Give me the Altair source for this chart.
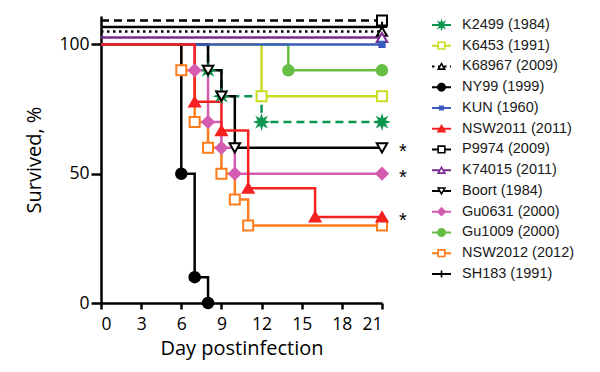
import math
import altair as alt
import pandas as pd

# ---- data -------------------------------------------------------------
series = ["K2499 (1984)", "K6453 (1991)", "K68967 (2009)", "NY99 (1999)",
          "KUN (1960)", "NSW2011 (2011)", "P9974 (2009)", "K74015 (2011)",
          "Boort (1984)", "Gu0631 (2000)", "Gu1009 (2000)", "NSW2012 (2012)",
          "SH183 (1991)"]

k2499_day = [0, 8, 9, 12, 21]
k2499_pct = [100, 90, 80, 70, 70]
k6453_day = [0, 12, 21]
k6453_pct = [100, 80, 80]
k68967_day = [0, 21]
k68967_pct = [105, 105]
ny99_day = [0, 6, 7, 8]
ny99_pct = [100, 50, 10, 0]
kun_day = [0, 21]
kun_pct = [100, 100]
nsw2011_day = [0, 7, 9, 11, 16, 21]
nsw2011_pct = [100, 77.8, 66.7, 44.4, 33.3, 33.3]
p9974_day = [0, 21]
p9974_pct = [109.3, 109.3]
k74015_day = [0, 21]
k74015_pct = [102.7, 102.7]
boort_day = [0, 8, 9, 10, 21]
boort_pct = [100, 90, 80, 60, 60]
gu0631_day = [0, 7, 8, 9, 10, 21]
gu0631_pct = [100, 90, 70, 60, 50, 50]
gu1009_day = [0, 14, 21]
gu1009_pct = [100, 90, 90]
nsw2012_day = [0, 6, 7, 8, 9, 10, 11, 21]
nsw2012_pct = [100, 90, 70, 60, 50, 40, 30, 30]
sh183_day = [0, 21]
sh183_pct = [106.7, 106.7]

# significance marks (day 21 end values)
star_pct = [60, 50, 33.3]

x_ticks = [0, 3, 6, 9, 12, 15, 18, 21]
y_ticks = [0, 50, 100]

# ---- styles -----------------------------------------------------------
colors = ["#0b9650", "#cbdc22", "#000000", "#000000", "#3a5cc2", "#f52020",
          "#000000", "#7a2b8f", "#000000", "#d45cb0", "#67be45", "#ff7c1c",
          "#000000"]
fills = ["#0b9650", "#ffffff", "#ffffff", "#000000", "#3a5cc2", "#f52020",
         "#ffffff", "#ffffff", "#ffffff", "#d45cb0", "#67be45", "#ffffff",
         "#000000"]
dashes = [[8, 5], [1, 0], [2.5, 3.5], [1, 0], [1, 0], [1, 0], [8, 5], [1, 0],
          [1, 0], [1, 0], [1, 0], [1, 0], [1, 0]]

pts = []
for k in range(16):
    a = -math.pi / 2 + k * math.pi / 8
    r = 1.0 if k % 2 == 0 else 0.45
    pts.append(f"{r * math.cos(a):.3f},{r * math.sin(a):.3f}")
star_path = "M" + "L".join(pts) + "Z"
plus_path = "M-1,0L1,0M0,-1L0,1"

shapes = [star_path, "square", "triangle-up", "circle", "square",
          "triangle-up", "square", "triangle-up", "triangle-down", "diamond",
          "circle", "square", plus_path]
sizes = [120, 100, 100, 110, 28, 115, 100, 110, 110, 130, 110, 100, 110]
leg_sizes = [55, 45, 40, 55, 12, 50, 45, 45, 45, 55, 55, 45, 50]

draw_order = [6, 12, 2, 7, 10, 1, 0, 8, 9, 11, 3, 4, 5]
days = [k2499_day, k6453_day, k68967_day, ny99_day, kun_day, nsw2011_day,
        p9974_day, k74015_day, boort_day, gu0631_day, gu1009_day,
        nsw2012_day, sh183_day]
pcts = [k2499_pct, k6453_pct, k68967_pct, ny99_pct, kun_pct, nsw2011_pct,
        p9974_pct, k74015_pct, boort_pct, gu0631_pct, gu1009_pct,
        nsw2012_pct, sh183_pct]

rows = []
for i in draw_order:
    for j, (d, p) in enumerate(zip(days[i], pcts[i])):
        rows.append({"name": series[i], "day": d, "pct": p, "mark": j > 0,
                     "sz": sizes[i]})
df = pd.DataFrame(rows)

star_df = pd.DataFrame({"day": [21] * len(star_pct), "pct": star_pct})
leg_df = pd.DataFrame({"name": series, "idx": list(range(len(series))),
                       "lsz": leg_sizes})

FONT = "Open Sans"
LFONT = "Liberation Sans"

color_sc = alt.Scale(domain=series, range=colors)
fill_sc = alt.Scale(domain=series, range=fills)
dash_sc = alt.Scale(domain=series, range=dashes)
shape_sc = alt.Scale(domain=series, range=shapes)

x_enc = alt.X("day:Q", scale=alt.Scale(domain=[0, 21], nice=False),
              axis=alt.Axis(values=x_ticks, title="Day postinfection",
                            tickSize=6, labelPadding=6, titlePadding=6))
y_enc = alt.Y("pct:Q", scale=alt.Scale(domain=[0, 111], nice=False),
              axis=alt.Axis(values=y_ticks, title="Survived, %",
                            tickSize=10, labelPadding=2, titlePadding=14))

base = alt.Chart(df)
lines = base.mark_line(interpolate="step-after", strokeWidth=2.5).encode(
    x=x_enc, y=y_enc,
    color=alt.Color("name:N", scale=color_sc, legend=None),
    strokeDash=alt.StrokeDash("name:N", scale=dash_sc, legend=None),
)
points = base.transform_filter("datum.mark").mark_point(
    strokeWidth=2, opacity=1, fillOpacity=1).encode(
    x="day:Q", y="pct:Q",
    stroke=alt.Stroke("name:N", scale=color_sc, legend=None),
    fill=alt.Fill("name:N", scale=fill_sc, legend=None),
    shape=alt.Shape("name:N", scale=shape_sc, legend=None),
    size=alt.Size("sz:Q", scale=None, legend=None),
)
stars = alt.Chart(star_df).mark_text(
    text="*", font=LFONT, fontSize=20, dx=21, dy=4, color="black").encode(
    x="day:Q", y="pct:Q")

main = alt.layer(lines, points, stars).properties(width=281, height=287)

leg_y = alt.Y("idx:Q", scale=alt.Scale(domain=[-0.43, 13.4], reverse=True,
                                       nice=False, zero=False), axis=None)
leg_base = alt.Chart(leg_df)
leg_line = leg_base.mark_rule(strokeWidth=2).encode(
    x=alt.value(12), x2=alt.value(31), y=leg_y,
    color=alt.Color("name:N", scale=color_sc, legend=None),
    strokeDash=alt.StrokeDash("name:N", scale=dash_sc, legend=None),
)
leg_pt = leg_base.mark_point(strokeWidth=1.6, opacity=1, fillOpacity=1).encode(
    x=alt.value(21.5), y=leg_y,
    stroke=alt.Stroke("name:N", scale=color_sc, legend=None),
    fill=alt.Fill("name:N", scale=fill_sc, legend=None),
    shape=alt.Shape("name:N", scale=shape_sc, legend=None),
    size=alt.Size("lsz:Q", scale=None, legend=None),
)
leg_txt = leg_base.mark_text(align="left", baseline="middle", font=LFONT,
                             fontSize=14.5, color="#1a1a1a").encode(
    x=alt.value(42), y=leg_y, text="name:N")
legend = alt.layer(leg_line, leg_pt, leg_txt).properties(width=160, height=287)

chart = alt.hconcat(main, legend, spacing=38, bounds="flush").resolve_scale(
    y="independent", x="independent"
).properties(padding={"left": 16, "top": 3, "right": 5, "bottom": 5}
).configure_view(stroke=None).configure_axis(
    labelFont=FONT, titleFont=FONT, labelFontSize=17.5, titleFontSize=20,
    titleFontWeight="normal", labelColor="black", titleColor="black",
    domainColor="black", tickColor="black", domainWidth=2.5, tickWidth=2.5,
    grid=False,
)

chart.save("out.html", embed_options={"renderer": "svg", "actions": False})
